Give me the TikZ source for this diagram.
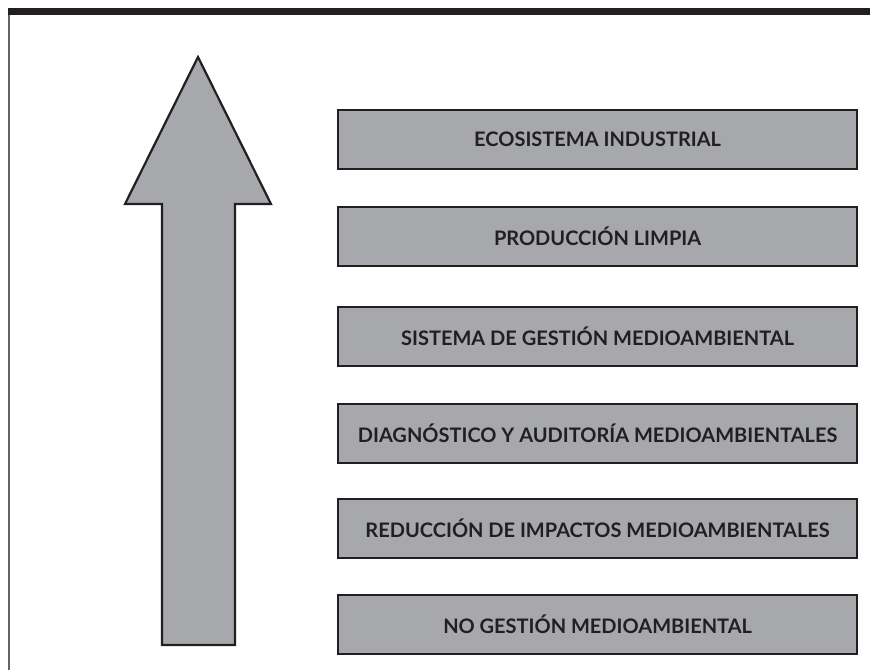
\documentclass[tikz,border=0pt]{standalone}
\usepackage{fontspec}
\setmainfont{Lato}
\definecolor{boxgrey}{HTML}{A7A8AB}
\definecolor{ink}{HTML}{231F20}
\begin{document}
\begin{tikzpicture}[x=1pt,y=-1pt,
  level/.style={draw=ink,line width=2.2pt,fill=boxgrey,minimum width=519pt,minimum height=59pt,
    anchor=north west,inner sep=0pt,font=\bfseries\fontsize{20}{24}\selectfont,text=ink}]
\useasboundingbox (0,0) rectangle (870,670);
% frame
\fill[ink] (8,8) rectangle (870,15);
\draw[ink!70,line width=1.6pt] (9,15) -- (9,670);
% arrow
\draw[ink,line width=2.2pt,fill=boxgrey,line join=miter]
  (198,57) -- (271,204) -- (235,204) -- (235,645) -- (162,645) -- (162,204) -- (125,204) -- cycle;
% levels
\node[level] (l1) at (337,109) {ECOSISTEMA INDUSTRIAL};
\node[level] (l2) at (337,206) {PRODUCCIÓN LIMPIA};
\node[level] (l3) at (337,306) {SISTEMA DE GESTIÓN MEDIOAMBIENTAL};
\node[level] (l4) at (337,403) {DIAGNÓSTICO Y AUDITORÍA MEDIOAMBIENTALES};
\node[level] (l5) at (337,498) {REDUCCIÓN DE IMPACTOS MEDIOAMBIENTALES};
\node[level] (l6) at (337,594) {NO GESTIÓN MEDIOAMBIENTAL};
\end{tikzpicture}
\end{document}
